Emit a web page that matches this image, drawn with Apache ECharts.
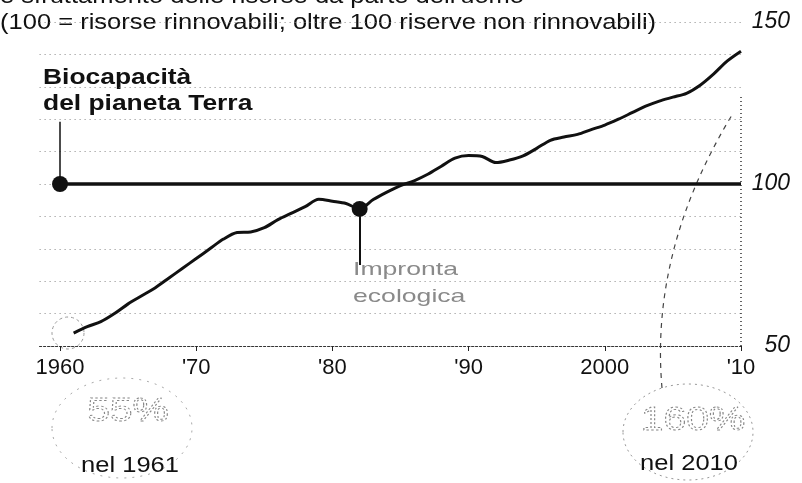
<!DOCTYPE html>
<html>
<head>
<meta charset="utf-8">
<script src="https://cdn.jsdelivr.net/npm/echarts@6/dist/echarts.min.js"></script>
<style>
  html, body { margin: 0; padding: 0; background: #fff; }
  #chart { width: 802px; height: 483px; }
</style>
</head>
<body>
<div id="chart"></div>
<script>
// dati
var years = [1961, 1962, 1963, 1964, 1965, 1966, 1967, 1968, 1969, 1970,
    1971, 1972, 1973, 1974, 1975, 1976, 1977, 1978, 1979, 1980,
    1981, 1982, 1983, 1984, 1985, 1986, 1987, 1988, 1989, 1990,
    1991, 1992, 1993, 1994, 1995, 1996, 1997, 1998, 1999, 2000,
    2001, 2002, 2003, 2004, 2005, 2006, 2007, 2008, 2009, 2010];
var impronta = [54, 56, 57.5, 60, 63, 65.5, 68, 71, 74, 77,
    80, 83, 85, 85.2, 86.5, 89, 91, 93, 95.3, 94.7,
    94, 92.3, 95.2, 97.5, 99.5, 101, 103, 105.5, 108, 108.8,
    108.5, 106.6, 107.4, 108.7, 111, 113.5, 114.5, 115.3, 116.8, 118.2,
    120, 122, 124, 125.6, 126.8, 128, 130.5, 134, 138, 141];
var bioYears = [1960, 2010];
var biocapacita = [100, 100];
var xTicks = [1960, 1970, 1980, 1990, 2000, 2010];
var xTickLabels = ['1960', "'70", "'80", "'90", '2000', "'10"];
var yTicks = [50, 100, 150];
var dotYear = 1982;

var chart = echarts.init(document.getElementById('chart'));

var footData = [];
for (var i = 0; i < years.length; i++) {
    if (years[i] === dotYear) {
        footData.push({ value: [years[i], impronta[i]], symbol: 'circle', symbolSize: 16 });
    } else {
        footData.push([years[i], impronta[i]]);
    }
}
var bioData = [];
for (var j = 0; j < bioYears.length; j++) {
    if (j === 0) {
        bioData.push({ value: [bioYears[j], biocapacita[j]], symbol: 'circle', symbolSize: 16 });
    } else {
        bioData.push([bioYears[j], biocapacita[j]]);
    }
}
var dotValue = impronta[years.indexOf(dotYear)];

var option = {
    animation: false,
    backgroundColor: '#fff',
    grid: { left: 39.6, right: 61, top: 22, bottom: 137 },
    xAxis: {
        type: 'value',
        min: 1958.5,
        max: 2010,
        axisLine: { lineStyle: { color: '#333', type: [2, 2], width: 1.2 } },
        axisTick: { customValues: xTicks, length: 5, lineStyle: { color: '#222' } },
        axisLabel: {
            customValues: xTicks,
            margin: 11,
            fontSize: 22,
            fontFamily: 'Liberation Sans',
            color: '#111',
            formatter: function (v) { return xTickLabels[xTicks.indexOf(v)]; }
        },
        splitLine: { show: false }
    },
    yAxis: {
        type: 'value',
        position: 'right',
        min: 50,
        max: 150,
        interval: 10,
        axisLine: { show: false },
        axisTick: { show: false },
        axisLabel: {
            margin: 49,
            align: 'right',
            fontSize: 23,
            fontStyle: 'italic',
            fontFamily: 'Liberation Sans',
            color: '#111',
            formatter: function (v) { return yTicks.indexOf(v) >= 0 ? String(v) : ''; }
        },
        splitLine: { lineStyle: { color: '#888', type: [1, 4], width: 1 } }
    },
    series: [
        {
            name: 'Biocapacità',
            type: 'line',
            data: bioData,
            symbol: 'none',
            showSymbol: true,
            itemStyle: { color: '#111' },
            lineStyle: { color: '#111', width: 3.5 },
            markLine: {
                symbol: 'none',
                silent: true,
                label: { show: false },
                lineStyle: { color: '#111', width: 1.5, type: 'solid' },
                data: [
                    [{ coord: [1960, 100] }, { coord: [1960, 119.2] }],
                    [{ coord: [2010, 50] }, { coord: [2010, 127], lineStyle: { type: [1, 3], width: 1.5, color: '#333' } }]
                ]
            }
        },
        {
            name: 'Impronta ecologica',
            type: 'line',
            data: footData,
            smooth: 0.3,
            symbol: 'none',
            showSymbol: true,
            itemStyle: { color: '#111' },
            lineStyle: { color: '#111', width: 3 },
            markLine: {
                symbol: 'none',
                silent: true,
                label: { show: false },
                lineStyle: { color: '#111', width: 2, type: 'solid' },
                data: [
                    [{ coord: [dotYear, dotValue] }, { coord: [dotYear, 75] }]
                ]
            }
        }
    ],
    graphic: [
        {
            type: 'text', x: 0, y: -3, scaleX: 1.16,
            style: { text: "e sfruttamento delle risorse da parte dell'uomo", font: '22px "Liberation Sans"', fill: '#111', verticalAlign: 'middle' }
        },
        {
            type: 'text', x: 0, y: 23, scaleX: 1.16,
            style: {
                text: '(100 = risorse rinnovabili; oltre 100 riserve non rinnovabili)',
                font: '22px "Liberation Sans"', fill: '#111', verticalAlign: 'middle',
                backgroundColor: '#fff', padding: [0, 12, 0, 0]
            }
        },
        {
            type: 'text', x: 43, y: 91, scaleX: 1.2,
            style: { text: 'Biocapacità\ndel pianeta Terra', font: 'bold 22px "Liberation Sans"', fill: '#111', verticalAlign: 'middle', lineHeight: 26 }
        },
        {
            type: 'text', x: 353, y: 283, scaleX: 1.4,
            style: { text: 'Impronta\necologica', font: '19px "Liberation Sans"', fill: '#8a8a8a', verticalAlign: 'middle', lineHeight: 27 }
        },
        {
            type: 'circle', shape: { cx: 68, cy: 333, r: 16 },
            style: { fill: 'none', stroke: '#999', lineWidth: 1, lineDash: [3, 3] }
        },
        {
            type: 'ellipse', shape: { cx: 122, cy: 428, rx: 70, ry: 50 },
            style: { fill: 'none', stroke: '#aaa', lineWidth: 1, lineDash: [2, 6] }
        },
        {
            type: 'text', x: 128, y: 412, scaleX: 1.2,
            style: { text: '55%', font: '34px "Liberation Sans"', fill: 'none', stroke: '#888', lineWidth: 1, lineDash: [2, 2], align: 'center', verticalAlign: 'middle' }
        },
        {
            type: 'text', x: 130, y: 466, scaleX: 1.16,
            style: { text: 'nel 1961', font: '22px "Liberation Sans"', fill: '#111', align: 'center', verticalAlign: 'middle' }
        },
        {
            type: 'ellipse', shape: { cx: 688, cy: 432, rx: 65, ry: 48 },
            style: { fill: 'none', stroke: '#999', lineWidth: 1, lineDash: [2, 4] }
        },
        {
            type: 'bezierCurve', shape: { x1: 662, y1: 388, cpx1: 650, cpy1: 250, x2: 732, y2: 115 },
            style: { fill: 'none', stroke: '#444', lineWidth: 1.2, lineDash: [5, 5] }
        },
        {
            type: 'text', x: 693, y: 421, scaleX: 1.2,
            style: { text: '160%', font: '34px "Liberation Sans"', fill: 'none', stroke: '#888', lineWidth: 1, lineDash: [2, 2], align: 'center', verticalAlign: 'middle' }
        },
        {
            type: 'text', x: 689, y: 464, scaleX: 1.16,
            style: { text: 'nel 2010', font: '22px "Liberation Sans"', fill: '#111', align: 'center', verticalAlign: 'middle' }
        }
    ]
};

chart.setOption(option);
</script>
</body>
</html>
